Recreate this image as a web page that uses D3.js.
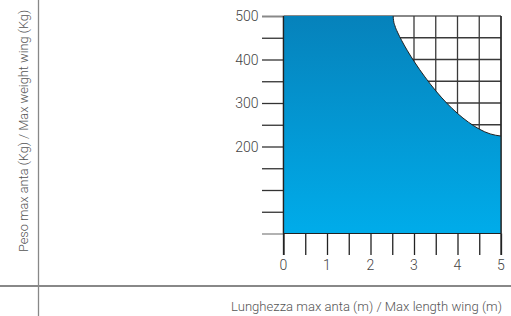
<!DOCTYPE html>
<html><head><meta charset="utf-8">
<script src="https://cdnjs.cloudflare.com/ajax/libs/d3/7.8.5/d3.min.js"></script>
<style>html,body{margin:0;padding:0;background:#fff;}svg{display:block;}</style>
</head><body><div id="chart"></div>
<script>
const lengths = [0, 2.52, 2.53, 2.56, 2.62, 2.72, 2.85, 3.0, 3.25, 3.5, 3.75, 4.0, 4.25, 4.5, 4.75, 5.0];
const weights = [500, 500, 490, 478, 463, 443, 420, 396, 360, 328, 300, 276, 256, 240, 229, 224];
const xTicks = [0, 0.5, 1, 1.5, 2, 2.5, 3, 3.5, 4, 4.5, 5];
const xTickLabels = [0, 1, 2, 3, 4, 5];
const yTicks = [0, 50, 100, 150, 200, 250, 300, 350, 400, 450, 500];
const yTickLabels = [200, 300, 400, 500];
const yTitle = "Peso max anta (Kg) / Max weight wing (Kg)";
const xTitle = "Lunghezza max anta (m) / Max length wing (m)";

const W = 511, H = 316;
const svg = d3.select("#chart").append("svg").attr("width", W).attr("height", H);
const x = d3.scaleLinear().domain([0, 5]).range([283.5, 501]);
const y = d3.scaleLinear().domain([0, 500]).range([233.5, 16]);
const font = "Roboto, 'Liberation Sans', sans-serif";

// frame lines
svg.append("line").attr("x1", 38.5).attr("x2", 38.5).attr("y1", 0).attr("y2", H)
  .attr("stroke", "#888").attr("stroke-width", 1.3);
svg.append("line").attr("x1", 0).attr("x2", W).attr("y1", 286).attr("y2", 286)
  .attr("stroke", "#888").attr("stroke-width", 2);

// grid (behind area)
const tickLen = x(0) - 262;
const gY = svg.append("g").attr("transform", `translate(${x(0)},0)`)
  .call(d3.axisLeft(y).tickValues(yTicks).tickSize(tickLen).tickFormat(""));
gY.select(".domain").remove();
gY.selectAll(".tick line").attr("stroke", d => (d === 500 || d === 0) ? "#888" : "#333").attr("stroke-width", d => d === 500 ? 2 : 1.3);
svg.append("g").selectAll("line").data(yTicks.filter(d => d > 0 && d < 500)).join("line")
  .attr("x1", x(0)).attr("x2", x(5)).attr("y1", d => y(d)).attr("y2", d => y(d))
  .attr("stroke", "#3a3a3a").attr("stroke-width", 1.3);
svg.append("line").attr("x1", x(0)).attr("x2", x(5)).attr("y1", y(500)).attr("y2", y(500))
  .attr("stroke", "#888").attr("stroke-width", 2);
svg.append("g").selectAll("line").data(xTicks).join("line")
  .attr("x1", d => x(d)).attr("x2", d => x(d)).attr("y1", y(500)).attr("y2", y(0))
  .attr("stroke", "#3a3a3a").attr("stroke-width", 1.3);

// gradient
const defs = svg.append("defs");
const grad = defs.append("linearGradient").attr("id", "blue").attr("x1", 0).attr("y1", 0).attr("x2", 0).attr("y2", 1);
grad.append("stop").attr("offset", "0%").attr("stop-color", "#0682BB");
grad.append("stop").attr("offset", "100%").attr("stop-color", "#00ACEA");

const pts = lengths.map((l, i) => [l, weights[i]]);
const area = d3.area().x(d => x(d[0])).y0(y(0)).y1(d => y(d[1])).curve(d3.curveMonotoneX);
svg.append("path").datum(pts).attr("d", area).attr("fill", "url(#blue)");
const line = d3.line().x(d => x(d[0])).y(d => y(d[1])).curve(d3.curveMonotoneX);
svg.append("path").datum(pts.slice(1)).attr("d", line).attr("fill", "none")
  .attr("stroke", "#222").attr("stroke-width", 1);

// x axis ticks
const gX = svg.append("g").attr("transform", `translate(0,${y(0)})`)
  .call(d3.axisBottom(x).tickValues(xTicks).tickSize(21.5).tickFormat(""));
gX.select(".domain").attr("stroke", "#222").attr("stroke-width", 1.2).attr("d", `M${x(0)},0H${x(5)}`);
gX.selectAll(".tick line").attr("stroke", "#222").attr("stroke-width", 1.3);
svg.append("line").attr("x1", x(0)).attr("x2", x(0)).attr("y1", y(500)).attr("y2", y(0) + 21.5)
  .attr("stroke", "#222").attr("stroke-width", 1.3);
svg.append("line").attr("x1", x(5)).attr("x2", x(5)).attr("y1", y(500)).attr("y2", y(0) + 21.5)
  .attr("stroke", "#222").attr("stroke-width", 1.3);

// tick labels
svg.append("g").selectAll("text").data(xTickLabels).join("text")
  .attr("x", d => x(d)).attr("y", 270).attr("text-anchor", "middle")
  .attr("font-family", font).attr("font-weight", 300).attr("font-size", 14).attr("fill", "#444")
  .text(d => d);
svg.append("g").selectAll("text").data(yTickLabels).join("text")
  .attr("x", 258.5).attr("y", d => y(d) + 5).attr("text-anchor", "end")
  .attr("font-family", font).attr("font-weight", 300).attr("font-size", 14).attr("fill", "#444")
  .text(d => d);

// titles
svg.append("text").attr("transform", "translate(24,131) rotate(-90)").attr("text-anchor", "middle")
  .attr("font-family", font).attr("font-weight", 300).attr("font-size", 12.8).attr("fill", "#555")
  .attr("dy", "0.35em").text(yTitle);
svg.append("text").attr("x", 502).attr("y", 311).attr("text-anchor", "end")
  .attr("font-family", font).attr("font-weight", 300).attr("font-size", 13.1).attr("fill", "#555")
  .text(xTitle);
</script></body></html>
